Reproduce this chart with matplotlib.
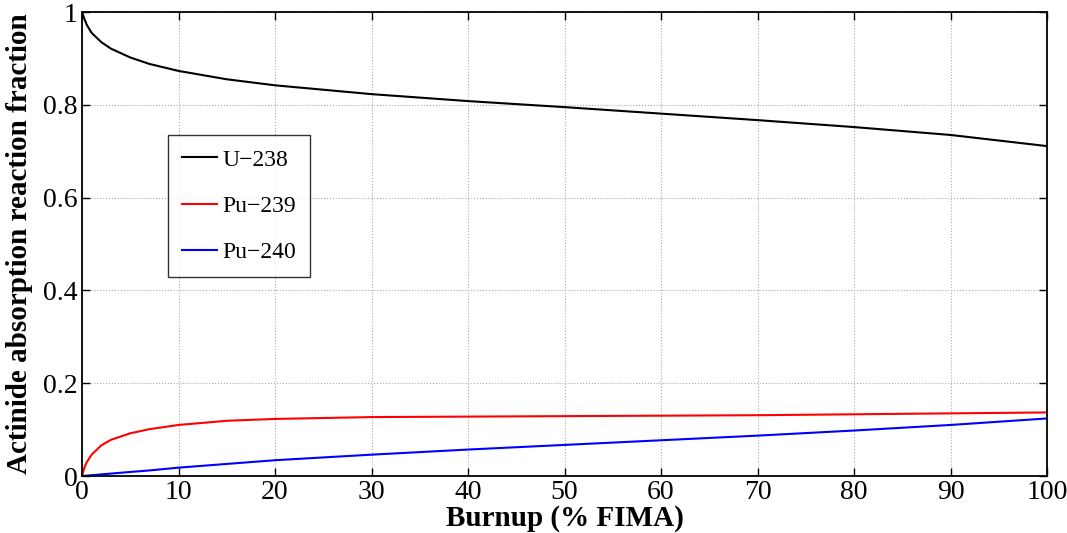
import numpy as np
import matplotlib.pyplot as plt

plt.rcParams['font.family'] = ['Liberation Serif', 'DejaVu Serif']
plt.rcParams['axes.unicode_minus'] = True

burnup = [0, 0.25, 0.5, 1, 2, 3, 5, 7, 10, 15, 20, 30, 40, 50, 60, 70, 80, 90, 100]
u238 = [1.0, 0.985, 0.972, 0.955, 0.935, 0.921, 0.902, 0.888, 0.873, 0.855, 0.842, 0.823,
        0.808, 0.795, 0.781, 0.767, 0.752, 0.735, 0.711]
pu239 = [0.0, 0.018, 0.03, 0.046, 0.066, 0.078, 0.092, 0.101, 0.110, 0.119, 0.123, 0.127,
         0.128, 0.129, 0.130, 0.131, 0.133, 0.135, 0.137]
pu240 = [0.0, 0.0004, 0.0008, 0.0017, 0.0035, 0.0052, 0.0087, 0.012, 0.018, 0.026, 0.034,
         0.046, 0.057, 0.067, 0.077, 0.087, 0.098, 0.110, 0.124]

fig = plt.figure(figsize=(10.67, 5.33), dpi=100)
ax = fig.add_axes([82/1067, 57/533, 965/1067, 464/533])

ax.plot(burnup, u238, color='black', lw=1.5, label='U\u2212238')
ax.plot(burnup, pu239, color='red', lw=1.5, label='Pu\u2212239')
ax.plot(burnup, pu240, color='blue', lw=1.5, label='Pu\u2212240')

ax.set_xlim(0, 100)
ax.set_ylim(0, 1)
ax.set_xticks(np.arange(0, 101, 10))
ax.set_yticks([0, 0.2, 0.4, 0.6, 0.8, 1])
ax.set_yticklabels(['0', '0.2', '0.4', '0.6', '0.8', '1'])
ax.tick_params(direction='in', top=True, right=True, labelsize=20, length=6, width=1)
ax.tick_params(axis='x', pad=3)
ax.tick_params(axis='y', pad=3)
ax.grid(True, linestyle=':', color='#aaaaaa', lw=0.8)
for s in ax.spines.values():
    s.set_linewidth(1.3)

ax.set_xlabel('Burnup (% FIMA)', fontsize=21, fontweight='bold', labelpad=0)
ax.set_ylabel('Actinide absorption reaction fraction', fontsize=21, fontweight='bold', labelpad=7)

leg = ax.legend(loc='upper left', bbox_to_anchor=(0.089, 0.735), fontsize=17,
                frameon=True, fancybox=False, edgecolor='black', handlelength=1.5,
                labelspacing=1.05, borderpad=0.6, handletextpad=0.2, borderaxespad=0)
leg.get_frame().set_linewidth(1.0)

fig.savefig('out.png', dpi=100)
